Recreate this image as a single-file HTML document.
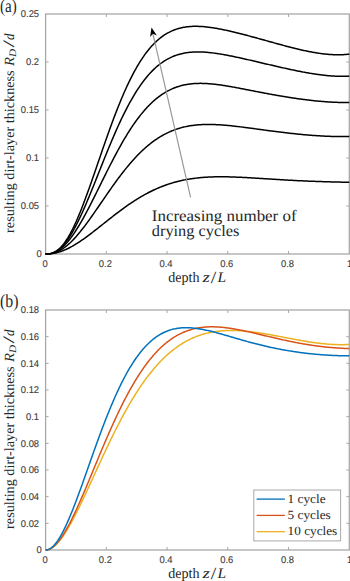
<!DOCTYPE html><html><head><meta charset="utf-8"><style>html,body{margin:0;padding:0;background:#fff;}text{text-rendering:geometricPrecision;}svg{display:block;}</style></head><body>
<svg width="350" height="581" viewBox="0 0 350 581">
<rect width="350" height="581" fill="#fff"/>
<style>.tk{font-family:"Liberation Sans",sans-serif;font-size:9.8px;fill:#383838;stroke:#383838;stroke-width:0.1}.sf{font-family:"Liberation Serif",serif;fill:#262626;}</style>
<rect x="45.60" y="14.00" width="303.70" height="240.00" fill="none" stroke="#a8a8a8" stroke-width="1.3"/>
<text x="45.00" y="266.90" text-anchor="middle" class="tk" textLength="5.23" lengthAdjust="spacingAndGlyphs">0</text>
<line x1="106.34" y1="254.00" x2="106.34" y2="251.00" stroke="#a8a8a8" stroke-width="1.0"/>
<line x1="106.34" y1="14.00" x2="106.34" y2="17.00" stroke="#a8a8a8" stroke-width="1.0"/>
<text x="105.34" y="266.90" text-anchor="middle" class="tk" textLength="13.07" lengthAdjust="spacingAndGlyphs">0.2</text>
<line x1="167.08" y1="254.00" x2="167.08" y2="251.00" stroke="#a8a8a8" stroke-width="1.0"/>
<line x1="167.08" y1="14.00" x2="167.08" y2="17.00" stroke="#a8a8a8" stroke-width="1.0"/>
<text x="166.08" y="266.90" text-anchor="middle" class="tk" textLength="13.07" lengthAdjust="spacingAndGlyphs">0.4</text>
<line x1="227.82" y1="254.00" x2="227.82" y2="251.00" stroke="#a8a8a8" stroke-width="1.0"/>
<line x1="227.82" y1="14.00" x2="227.82" y2="17.00" stroke="#a8a8a8" stroke-width="1.0"/>
<text x="226.82" y="266.90" text-anchor="middle" class="tk" textLength="13.07" lengthAdjust="spacingAndGlyphs">0.6</text>
<line x1="288.56" y1="254.00" x2="288.56" y2="251.00" stroke="#a8a8a8" stroke-width="1.0"/>
<line x1="288.56" y1="14.00" x2="288.56" y2="17.00" stroke="#a8a8a8" stroke-width="1.0"/>
<text x="287.56" y="266.90" text-anchor="middle" class="tk" textLength="13.07" lengthAdjust="spacingAndGlyphs">0.8</text>
<text x="349.70" y="266.90" text-anchor="middle" class="tk" textLength="5.23" lengthAdjust="spacingAndGlyphs">1</text>
<text x="41.70" y="257.30" text-anchor="end" class="tk" textLength="5.23" lengthAdjust="spacingAndGlyphs">0</text>
<line x1="45.60" y1="206.00" x2="48.60" y2="206.00" stroke="#a8a8a8" stroke-width="1.0"/>
<line x1="349.30" y1="206.00" x2="346.30" y2="206.00" stroke="#a8a8a8" stroke-width="1.0"/>
<text x="39.10" y="209.30" text-anchor="end" class="tk" textLength="18.29" lengthAdjust="spacingAndGlyphs">0.05</text>
<line x1="45.60" y1="158.00" x2="48.60" y2="158.00" stroke="#a8a8a8" stroke-width="1.0"/>
<line x1="349.30" y1="158.00" x2="346.30" y2="158.00" stroke="#a8a8a8" stroke-width="1.0"/>
<text x="39.10" y="161.30" text-anchor="end" class="tk" textLength="13.07" lengthAdjust="spacingAndGlyphs">0.1</text>
<line x1="45.60" y1="110.00" x2="48.60" y2="110.00" stroke="#a8a8a8" stroke-width="1.0"/>
<line x1="349.30" y1="110.00" x2="346.30" y2="110.00" stroke="#a8a8a8" stroke-width="1.0"/>
<text x="39.10" y="113.30" text-anchor="end" class="tk" textLength="18.29" lengthAdjust="spacingAndGlyphs">0.15</text>
<line x1="45.60" y1="62.00" x2="48.60" y2="62.00" stroke="#a8a8a8" stroke-width="1.0"/>
<line x1="349.30" y1="62.00" x2="346.30" y2="62.00" stroke="#a8a8a8" stroke-width="1.0"/>
<text x="39.10" y="65.30" text-anchor="end" class="tk" textLength="13.07" lengthAdjust="spacingAndGlyphs">0.2</text>
<text x="39.10" y="17.30" text-anchor="end" class="tk" textLength="18.29" lengthAdjust="spacingAndGlyphs">0.25</text>
<rect x="45.60" y="310.00" width="303.70" height="240.00" fill="none" stroke="#a8a8a8" stroke-width="1.3"/>
<text x="45.00" y="562.90" text-anchor="middle" class="tk" textLength="5.23" lengthAdjust="spacingAndGlyphs">0</text>
<line x1="106.34" y1="550.00" x2="106.34" y2="547.00" stroke="#a8a8a8" stroke-width="1.0"/>
<line x1="106.34" y1="310.00" x2="106.34" y2="313.00" stroke="#a8a8a8" stroke-width="1.0"/>
<text x="105.34" y="562.90" text-anchor="middle" class="tk" textLength="13.07" lengthAdjust="spacingAndGlyphs">0.2</text>
<line x1="167.08" y1="550.00" x2="167.08" y2="547.00" stroke="#a8a8a8" stroke-width="1.0"/>
<line x1="167.08" y1="310.00" x2="167.08" y2="313.00" stroke="#a8a8a8" stroke-width="1.0"/>
<text x="166.08" y="562.90" text-anchor="middle" class="tk" textLength="13.07" lengthAdjust="spacingAndGlyphs">0.4</text>
<line x1="227.82" y1="550.00" x2="227.82" y2="547.00" stroke="#a8a8a8" stroke-width="1.0"/>
<line x1="227.82" y1="310.00" x2="227.82" y2="313.00" stroke="#a8a8a8" stroke-width="1.0"/>
<text x="226.82" y="562.90" text-anchor="middle" class="tk" textLength="13.07" lengthAdjust="spacingAndGlyphs">0.6</text>
<line x1="288.56" y1="550.00" x2="288.56" y2="547.00" stroke="#a8a8a8" stroke-width="1.0"/>
<line x1="288.56" y1="310.00" x2="288.56" y2="313.00" stroke="#a8a8a8" stroke-width="1.0"/>
<text x="287.56" y="562.90" text-anchor="middle" class="tk" textLength="13.07" lengthAdjust="spacingAndGlyphs">0.8</text>
<text x="349.70" y="562.90" text-anchor="middle" class="tk" textLength="5.23" lengthAdjust="spacingAndGlyphs">1</text>
<text x="41.70" y="553.30" text-anchor="end" class="tk" textLength="5.23" lengthAdjust="spacingAndGlyphs">0</text>
<line x1="45.60" y1="523.33" x2="48.60" y2="523.33" stroke="#a8a8a8" stroke-width="1.0"/>
<line x1="349.30" y1="523.33" x2="346.30" y2="523.33" stroke="#a8a8a8" stroke-width="1.0"/>
<text x="39.10" y="526.63" text-anchor="end" class="tk" textLength="18.29" lengthAdjust="spacingAndGlyphs">0.02</text>
<line x1="45.60" y1="496.67" x2="48.60" y2="496.67" stroke="#a8a8a8" stroke-width="1.0"/>
<line x1="349.30" y1="496.67" x2="346.30" y2="496.67" stroke="#a8a8a8" stroke-width="1.0"/>
<text x="39.10" y="499.97" text-anchor="end" class="tk" textLength="18.29" lengthAdjust="spacingAndGlyphs">0.04</text>
<line x1="45.60" y1="470.00" x2="48.60" y2="470.00" stroke="#a8a8a8" stroke-width="1.0"/>
<line x1="349.30" y1="470.00" x2="346.30" y2="470.00" stroke="#a8a8a8" stroke-width="1.0"/>
<text x="39.10" y="473.30" text-anchor="end" class="tk" textLength="18.29" lengthAdjust="spacingAndGlyphs">0.06</text>
<line x1="45.60" y1="443.33" x2="48.60" y2="443.33" stroke="#a8a8a8" stroke-width="1.0"/>
<line x1="349.30" y1="443.33" x2="346.30" y2="443.33" stroke="#a8a8a8" stroke-width="1.0"/>
<text x="39.10" y="446.63" text-anchor="end" class="tk" textLength="18.29" lengthAdjust="spacingAndGlyphs">0.08</text>
<line x1="45.60" y1="416.67" x2="48.60" y2="416.67" stroke="#a8a8a8" stroke-width="1.0"/>
<line x1="349.30" y1="416.67" x2="346.30" y2="416.67" stroke="#a8a8a8" stroke-width="1.0"/>
<text x="39.10" y="419.97" text-anchor="end" class="tk" textLength="13.07" lengthAdjust="spacingAndGlyphs">0.1</text>
<line x1="45.60" y1="390.00" x2="48.60" y2="390.00" stroke="#a8a8a8" stroke-width="1.0"/>
<line x1="349.30" y1="390.00" x2="346.30" y2="390.00" stroke="#a8a8a8" stroke-width="1.0"/>
<text x="39.10" y="393.30" text-anchor="end" class="tk" textLength="18.29" lengthAdjust="spacingAndGlyphs">0.12</text>
<line x1="45.60" y1="363.33" x2="48.60" y2="363.33" stroke="#a8a8a8" stroke-width="1.0"/>
<line x1="349.30" y1="363.33" x2="346.30" y2="363.33" stroke="#a8a8a8" stroke-width="1.0"/>
<text x="39.10" y="366.63" text-anchor="end" class="tk" textLength="18.29" lengthAdjust="spacingAndGlyphs">0.14</text>
<line x1="45.60" y1="336.67" x2="48.60" y2="336.67" stroke="#a8a8a8" stroke-width="1.0"/>
<line x1="349.30" y1="336.67" x2="346.30" y2="336.67" stroke="#a8a8a8" stroke-width="1.0"/>
<text x="39.10" y="339.97" text-anchor="end" class="tk" textLength="18.29" lengthAdjust="spacingAndGlyphs">0.16</text>
<text x="39.10" y="313.30" text-anchor="end" class="tk" textLength="18.29" lengthAdjust="spacingAndGlyphs">0.18</text>
<path d="M45.60 254.00L46.62 253.99L47.63 253.95L48.65 253.86L49.66 253.71L50.68 253.51L51.69 253.24L52.71 252.89L53.73 252.47L54.74 251.98L55.76 251.39L56.77 250.73L57.79 249.97L58.80 249.13L59.82 248.20L60.84 247.19L61.85 246.08L62.87 244.88L63.88 243.60L64.90 242.22L65.91 240.76L66.93 239.22L67.95 237.58L68.96 235.87L69.98 234.08L70.99 232.20L72.01 230.25L73.02 228.23L74.04 226.13L75.06 223.96L76.07 221.73L77.09 219.43L78.10 217.07L79.12 214.66L80.13 212.18L81.15 209.66L82.17 207.08L83.18 204.46L84.20 201.80L85.21 199.09L86.23 196.35L87.24 193.57L88.26 190.76L89.28 187.92L90.29 185.06L91.31 182.17L92.32 179.27L93.34 176.35L94.35 173.41L95.37 170.47L96.39 167.52L97.40 164.56L98.42 161.60L99.43 158.64L100.45 155.69L101.46 152.74L102.48 149.79L103.50 146.86L104.51 143.94L105.53 141.04L106.54 138.15L107.56 135.28L108.57 132.43L109.59 129.60L110.61 126.80L111.62 124.03L112.64 121.28L113.65 118.57L114.67 115.88L115.68 113.23L116.70 110.61L117.72 108.02L118.73 105.47L119.75 102.96L120.76 100.49L121.78 98.06L122.79 95.67L123.81 93.32L124.83 91.01L125.84 88.74L126.86 86.52L127.87 84.34L128.89 82.20L129.90 80.11L130.92 78.06L131.94 76.06L132.95 74.11L133.97 72.20L134.98 70.33L136.00 68.51L137.01 66.74L138.03 65.01L139.05 63.33L140.06 61.69L141.08 60.10L142.09 58.55L143.11 57.05L144.12 55.59L145.14 54.18L146.16 52.81L147.17 51.48L148.19 50.19L149.20 48.95L150.22 47.75L151.23 46.59L152.25 45.47L153.27 44.39L154.28 43.35L155.30 42.35L156.31 41.39L157.33 40.46L158.34 39.58L159.36 38.72L160.38 37.91L161.39 37.13L162.41 36.38L163.42 35.67L164.44 34.98L165.45 34.34L166.47 33.72L167.49 33.13L168.50 32.57L169.52 32.05L170.53 31.55L171.55 31.08L172.56 30.63L173.58 30.21L174.60 29.82L175.61 29.45L176.63 29.11L177.64 28.79L178.66 28.49L179.67 28.21L180.69 27.96L181.71 27.73L182.72 27.52L183.74 27.32L184.75 27.15L185.77 26.99L186.78 26.85L187.80 26.73L188.82 26.63L189.83 26.54L190.85 26.47L191.86 26.41L192.88 26.37L193.89 26.34L194.91 26.32L195.93 26.32L196.94 26.33L197.96 26.35L198.97 26.38L199.99 26.43L201.01 26.48L202.02 26.55L203.04 26.62L204.05 26.71L205.07 26.80L206.08 26.91L207.10 27.02L208.12 27.14L209.13 27.26L210.15 27.40L211.16 27.54L212.18 27.69L213.19 27.84L214.21 28.00L215.23 28.17L216.24 28.34L217.26 28.52L218.27 28.71L219.29 28.90L220.30 29.09L221.32 29.29L222.34 29.49L223.35 29.70L224.37 29.91L225.38 30.13L226.40 30.35L227.41 30.57L228.43 30.80L229.45 31.03L230.46 31.26L231.48 31.49L232.49 31.73L233.51 31.97L234.52 32.22L235.54 32.47L236.56 32.71L237.57 32.97L238.59 33.22L239.60 33.48L240.62 33.73L241.63 33.99L242.65 34.26L243.67 34.52L244.68 34.78L245.70 35.05L246.71 35.32L247.73 35.59L248.74 35.86L249.76 36.13L250.78 36.41L251.79 36.68L252.81 36.96L253.82 37.23L254.84 37.51L255.85 37.79L256.87 38.07L257.89 38.35L258.90 38.63L259.92 38.91L260.93 39.19L261.95 39.48L262.96 39.76L263.98 40.04L265.00 40.32L266.01 40.61L267.03 40.89L268.04 41.17L269.06 41.46L270.07 41.74L271.09 42.02L272.11 42.30L273.12 42.59L274.14 42.87L275.15 43.15L276.17 43.43L277.18 43.71L278.20 43.99L279.22 44.27L280.23 44.54L281.25 44.82L282.26 45.09L283.28 45.37L284.29 45.64L285.31 45.91L286.33 46.18L287.34 46.45L288.36 46.71L289.37 46.97L290.39 47.24L291.40 47.49L292.42 47.75L293.44 48.01L294.45 48.26L295.47 48.51L296.48 48.76L297.50 49.00L298.51 49.24L299.53 49.48L300.55 49.71L301.56 49.94L302.58 50.17L303.59 50.40L304.61 50.62L305.62 50.83L306.64 51.05L307.66 51.25L308.67 51.46L309.69 51.66L310.70 51.85L311.72 52.04L312.73 52.23L313.75 52.41L314.77 52.58L315.78 52.75L316.80 52.92L317.81 53.07L318.83 53.23L319.84 53.37L320.86 53.51L321.88 53.65L322.89 53.77L323.91 53.89L324.92 54.01L325.94 54.11L326.95 54.21L327.97 54.30L328.99 54.39L330.00 54.46L331.02 54.53L332.03 54.59L333.05 54.64L334.06 54.68L335.08 54.72L336.10 54.74L337.11 54.76L338.13 54.77L339.14 54.76L340.16 54.75L341.17 54.73L342.19 54.70L343.21 54.65L344.22 54.60L345.24 54.54L346.25 54.46L347.27 54.37L348.28 54.28L349.30 54.17" fill="none" stroke="#000" stroke-width="1.5" stroke-linejoin="round"/>
<path d="M45.60 254.00L46.62 253.99L47.63 253.95L48.65 253.86L49.66 253.72L50.68 253.53L51.69 253.27L52.71 252.95L53.73 252.56L54.74 252.10L55.76 251.56L56.77 250.95L57.79 250.27L58.80 249.51L59.82 248.67L60.84 247.76L61.85 246.76L62.87 245.70L63.88 244.55L64.90 243.34L65.91 242.04L66.93 240.68L67.95 239.24L68.96 237.74L69.98 236.17L70.99 234.53L72.01 232.82L73.02 231.06L74.04 229.23L75.06 227.35L76.07 225.41L77.09 223.42L78.10 221.37L79.12 219.28L80.13 217.14L81.15 214.96L82.17 212.73L83.18 210.47L84.20 208.17L85.21 205.84L86.23 203.47L87.24 201.08L88.26 198.66L89.28 196.22L90.29 193.75L91.31 191.27L92.32 188.77L93.34 186.25L94.35 183.73L95.37 181.19L96.39 178.65L97.40 176.10L98.42 173.55L99.43 171.00L100.45 168.44L101.46 165.90L102.48 163.36L103.50 160.82L104.51 158.30L105.53 155.78L106.54 153.28L107.56 150.79L108.57 148.32L109.59 145.87L110.61 143.44L111.62 141.02L112.64 138.63L113.65 136.26L114.67 133.92L115.68 131.60L116.70 129.31L117.72 127.05L118.73 124.81L119.75 122.61L120.76 120.44L121.78 118.29L122.79 116.19L123.81 114.11L124.83 112.07L125.84 110.06L126.86 108.09L127.87 106.15L128.89 104.25L129.90 102.39L130.92 100.56L131.94 98.77L132.95 97.02L133.97 95.31L134.98 93.63L136.00 91.99L137.01 90.39L138.03 88.83L139.05 87.31L140.06 85.82L141.08 84.37L142.09 82.96L143.11 81.59L144.12 80.25L145.14 78.95L146.16 77.69L147.17 76.47L148.19 75.28L149.20 74.13L150.22 73.01L151.23 71.93L152.25 70.89L153.27 69.88L154.28 68.90L155.30 67.96L156.31 67.05L157.33 66.18L158.34 65.34L159.36 64.52L160.38 63.74L161.39 63.00L162.41 62.28L163.42 61.59L164.44 60.93L165.45 60.30L166.47 59.70L167.49 59.12L168.50 58.58L169.52 58.05L170.53 57.56L171.55 57.09L172.56 56.64L173.58 56.22L174.60 55.82L175.61 55.45L176.63 55.10L177.64 54.77L178.66 54.46L179.67 54.17L180.69 53.90L181.71 53.65L182.72 53.42L183.74 53.21L184.75 53.02L185.77 52.84L186.78 52.69L187.80 52.54L188.82 52.42L189.83 52.31L190.85 52.21L191.86 52.13L192.88 52.06L193.89 52.01L194.91 51.97L195.93 51.94L196.94 51.92L197.96 51.92L198.97 51.92L199.99 51.94L201.01 51.97L202.02 52.01L203.04 52.06L204.05 52.11L205.07 52.18L206.08 52.25L207.10 52.34L208.12 52.43L209.13 52.53L210.15 52.63L211.16 52.75L212.18 52.87L213.19 52.99L214.21 53.13L215.23 53.26L216.24 53.41L217.26 53.56L218.27 53.71L219.29 53.87L220.30 54.04L221.32 54.21L222.34 54.38L223.35 54.56L224.37 54.74L225.38 54.93L226.40 55.11L227.41 55.31L228.43 55.50L229.45 55.70L230.46 55.90L231.48 56.10L232.49 56.31L233.51 56.52L234.52 56.73L235.54 56.94L236.56 57.16L237.57 57.38L238.59 57.60L239.60 57.82L240.62 58.04L241.63 58.27L242.65 58.49L243.67 58.72L244.68 58.95L245.70 59.18L246.71 59.41L247.73 59.64L248.74 59.87L249.76 60.11L250.78 60.34L251.79 60.57L252.81 60.81L253.82 61.05L254.84 61.28L255.85 61.52L256.87 61.76L257.89 62.00L258.90 62.23L259.92 62.47L260.93 62.71L261.95 62.95L262.96 63.19L263.98 63.43L265.00 63.67L266.01 63.91L267.03 64.15L268.04 64.38L269.06 64.62L270.07 64.86L271.09 65.10L272.11 65.33L273.12 65.57L274.14 65.81L275.15 66.04L276.17 66.28L277.18 66.51L278.20 66.74L279.22 66.98L280.23 67.21L281.25 67.44L282.26 67.67L283.28 67.89L284.29 68.12L285.31 68.35L286.33 68.57L287.34 68.80L288.36 69.02L289.37 69.24L290.39 69.46L291.40 69.67L292.42 69.89L293.44 70.10L294.45 70.31L295.47 70.52L296.48 70.73L297.50 70.94L298.51 71.14L299.53 71.34L300.55 71.54L301.56 71.73L302.58 71.93L303.59 72.12L304.61 72.31L305.62 72.49L306.64 72.67L307.66 72.85L308.67 73.03L309.69 73.20L310.70 73.37L311.72 73.54L312.73 73.70L313.75 73.86L314.77 74.01L315.78 74.16L316.80 74.31L317.81 74.45L318.83 74.59L319.84 74.73L320.86 74.86L321.88 74.98L322.89 75.10L323.91 75.22L324.92 75.33L325.94 75.43L326.95 75.53L327.97 75.63L328.99 75.71L330.00 75.80L331.02 75.88L332.03 75.95L333.05 76.01L334.06 76.07L335.08 76.13L336.10 76.17L337.11 76.21L338.13 76.24L339.14 76.27L340.16 76.29L341.17 76.30L342.19 76.31L343.21 76.30L344.22 76.29L345.24 76.27L346.25 76.25L347.27 76.21L348.28 76.17L349.30 76.12" fill="none" stroke="#000" stroke-width="1.5" stroke-linejoin="round"/>
<path d="M45.60 254.00L46.62 253.99L47.63 253.95L48.65 253.86L49.66 253.73L50.68 253.55L51.69 253.31L52.71 253.02L53.73 252.67L54.74 252.27L55.76 251.80L56.77 251.27L57.79 250.68L58.80 250.03L59.82 249.31L60.84 248.54L61.85 247.71L62.87 246.81L63.88 245.86L64.90 244.85L65.91 243.78L66.93 242.66L67.95 241.48L68.96 240.25L69.98 238.96L70.99 237.63L72.01 236.24L73.02 234.81L74.04 233.34L75.06 231.82L76.07 230.25L77.09 228.65L78.10 227.00L79.12 225.32L80.13 223.60L81.15 221.85L82.17 220.07L83.18 218.26L84.20 216.42L85.21 214.55L86.23 212.66L87.24 210.74L88.26 208.81L89.28 206.85L90.29 204.88L91.31 202.89L92.32 200.89L93.34 198.87L94.35 196.85L95.37 194.81L96.39 192.77L97.40 190.72L98.42 188.67L99.43 186.62L100.45 184.56L101.46 182.51L102.48 180.45L103.50 178.40L104.51 176.36L105.53 174.32L106.54 172.29L107.56 170.27L108.57 168.25L109.59 166.25L110.61 164.26L111.62 162.29L112.64 160.32L113.65 158.38L114.67 156.45L115.68 154.53L116.70 152.64L117.72 150.76L118.73 148.91L119.75 147.07L120.76 145.26L121.78 143.47L122.79 141.70L123.81 139.96L124.83 138.24L125.84 136.54L126.86 134.88L127.87 133.23L128.89 131.61L129.90 130.02L130.92 128.46L131.94 126.92L132.95 125.42L133.97 123.94L134.98 122.48L136.00 121.06L137.01 119.67L138.03 118.30L139.05 116.96L140.06 115.66L141.08 114.38L142.09 113.13L143.11 111.91L144.12 110.72L145.14 109.56L146.16 108.43L147.17 107.33L148.19 106.25L149.20 105.21L150.22 104.19L151.23 103.21L152.25 102.25L153.27 101.32L154.28 100.42L155.30 99.54L156.31 98.70L157.33 97.88L158.34 97.08L159.36 96.32L160.38 95.58L161.39 94.87L162.41 94.18L163.42 93.52L164.44 92.88L165.45 92.27L166.47 91.69L167.49 91.12L168.50 90.58L169.52 90.07L170.53 89.57L171.55 89.10L172.56 88.66L173.58 88.23L174.60 87.82L175.61 87.44L176.63 87.07L177.64 86.73L178.66 86.41L179.67 86.10L180.69 85.81L181.71 85.55L182.72 85.29L183.74 85.06L184.75 84.85L185.77 84.65L186.78 84.46L187.80 84.30L188.82 84.14L189.83 84.01L190.85 83.88L191.86 83.78L192.88 83.68L193.89 83.60L194.91 83.53L195.93 83.47L196.94 83.43L197.96 83.40L198.97 83.38L199.99 83.37L201.01 83.37L202.02 83.38L203.04 83.40L204.05 83.43L205.07 83.47L206.08 83.52L207.10 83.58L208.12 83.64L209.13 83.72L210.15 83.80L211.16 83.88L212.18 83.98L213.19 84.08L214.21 84.19L215.23 84.30L216.24 84.42L217.26 84.55L218.27 84.68L219.29 84.82L220.30 84.96L221.32 85.10L222.34 85.25L223.35 85.41L224.37 85.56L225.38 85.73L226.40 85.89L227.41 86.06L228.43 86.23L229.45 86.40L230.46 86.58L231.48 86.76L232.49 86.94L233.51 87.12L234.52 87.31L235.54 87.50L236.56 87.68L237.57 87.88L238.59 88.07L239.60 88.26L240.62 88.45L241.63 88.65L242.65 88.85L243.67 89.04L244.68 89.24L245.70 89.44L246.71 89.64L247.73 89.83L248.74 90.03L249.76 90.23L250.78 90.43L251.79 90.63L252.81 90.83L253.82 91.03L254.84 91.23L255.85 91.43L256.87 91.62L257.89 91.82L258.90 92.02L259.92 92.21L260.93 92.41L261.95 92.60L262.96 92.80L263.98 92.99L265.00 93.18L266.01 93.37L267.03 93.56L268.04 93.75L269.06 93.94L270.07 94.13L271.09 94.31L272.11 94.50L273.12 94.68L274.14 94.86L275.15 95.05L276.17 95.23L277.18 95.40L278.20 95.58L279.22 95.76L280.23 95.93L281.25 96.10L282.26 96.28L283.28 96.44L284.29 96.61L285.31 96.78L286.33 96.94L287.34 97.11L288.36 97.27L289.37 97.43L290.39 97.59L291.40 97.74L292.42 97.90L293.44 98.05L294.45 98.20L295.47 98.35L296.48 98.50L297.50 98.64L298.51 98.79L299.53 98.93L300.55 99.07L301.56 99.21L302.58 99.34L303.59 99.47L304.61 99.60L305.62 99.73L306.64 99.86L307.66 99.98L308.67 100.11L309.69 100.22L310.70 100.34L311.72 100.46L312.73 100.57L313.75 100.68L314.77 100.78L315.78 100.89L316.80 100.99L317.81 101.09L318.83 101.18L319.84 101.28L320.86 101.37L321.88 101.45L322.89 101.54L323.91 101.62L324.92 101.70L325.94 101.77L326.95 101.84L327.97 101.91L328.99 101.98L330.00 102.04L331.02 102.10L332.03 102.15L333.05 102.20L334.06 102.25L335.08 102.29L336.10 102.33L337.11 102.37L338.13 102.40L339.14 102.43L340.16 102.45L341.17 102.47L342.19 102.49L343.21 102.50L344.22 102.50L345.24 102.50L346.25 102.50L347.27 102.49L348.28 102.48L349.30 102.46" fill="none" stroke="#000" stroke-width="1.5" stroke-linejoin="round"/>
<path d="M45.60 254.00L46.62 253.99L47.63 253.96L48.65 253.89L49.66 253.79L50.68 253.65L51.69 253.47L52.71 253.25L53.73 252.98L54.74 252.68L55.76 252.33L56.77 251.93L57.79 251.49L58.80 251.01L59.82 250.48L60.84 249.91L61.85 249.30L62.87 248.64L63.88 247.95L64.90 247.21L65.91 246.43L66.93 245.61L67.95 244.75L68.96 243.86L69.98 242.93L70.99 241.96L72.01 240.96L73.02 239.93L74.04 238.86L75.06 237.76L76.07 236.64L77.09 235.48L78.10 234.30L79.12 233.09L80.13 231.85L81.15 230.59L82.17 229.31L83.18 228.01L84.20 226.69L85.21 225.35L86.23 223.99L87.24 222.61L88.26 221.22L89.28 219.82L90.29 218.40L91.31 216.97L92.32 215.53L93.34 214.08L94.35 212.63L95.37 211.16L96.39 209.69L97.40 208.22L98.42 206.74L99.43 205.26L100.45 203.78L101.46 202.29L102.48 200.81L103.50 199.33L104.51 197.85L105.53 196.37L106.54 194.90L107.56 193.43L108.57 191.96L109.59 190.51L110.61 189.06L111.62 187.62L112.64 186.18L113.65 184.76L114.67 183.35L115.68 181.94L116.70 180.55L117.72 179.17L118.73 177.80L119.75 176.45L120.76 175.11L121.78 173.78L122.79 172.47L123.81 171.18L124.83 169.90L125.84 168.63L126.86 167.38L127.87 166.15L128.89 164.94L129.90 163.74L130.92 162.56L131.94 161.40L132.95 160.25L133.97 159.13L134.98 158.02L136.00 156.93L137.01 155.86L138.03 154.81L139.05 153.78L140.06 152.77L141.08 151.78L142.09 150.81L143.11 149.86L144.12 148.93L145.14 148.02L146.16 147.12L147.17 146.25L148.19 145.40L149.20 144.56L150.22 143.75L151.23 142.96L152.25 142.18L153.27 141.43L154.28 140.69L155.30 139.98L156.31 139.28L157.33 138.60L158.34 137.95L159.36 137.31L160.38 136.68L161.39 136.08L162.41 135.50L163.42 134.93L164.44 134.38L165.45 133.85L166.47 133.34L167.49 132.85L168.50 132.37L169.52 131.91L170.53 131.46L171.55 131.03L172.56 130.62L173.58 130.23L174.60 129.85L175.61 129.48L176.63 129.13L177.64 128.80L178.66 128.48L179.67 128.17L180.69 127.88L181.71 127.61L182.72 127.34L183.74 127.09L184.75 126.86L185.77 126.63L186.78 126.42L187.80 126.22L188.82 126.04L189.83 125.86L190.85 125.70L191.86 125.55L192.88 125.41L193.89 125.28L194.91 125.16L195.93 125.05L196.94 124.95L197.96 124.86L198.97 124.78L199.99 124.71L201.01 124.64L202.02 124.59L203.04 124.55L204.05 124.51L205.07 124.48L206.08 124.46L207.10 124.45L208.12 124.44L209.13 124.44L210.15 124.45L211.16 124.46L212.18 124.49L213.19 124.51L214.21 124.55L215.23 124.58L216.24 124.63L217.26 124.68L218.27 124.73L219.29 124.79L220.30 124.86L221.32 124.93L222.34 125.00L223.35 125.08L224.37 125.16L225.38 125.24L226.40 125.33L227.41 125.42L228.43 125.52L229.45 125.62L230.46 125.72L231.48 125.83L232.49 125.94L233.51 126.05L234.52 126.16L235.54 126.27L236.56 126.39L237.57 126.51L238.59 126.63L239.60 126.75L240.62 126.88L241.63 127.01L242.65 127.13L243.67 127.26L244.68 127.39L245.70 127.52L246.71 127.66L247.73 127.79L248.74 127.93L249.76 128.06L250.78 128.20L251.79 128.33L252.81 128.47L253.82 128.61L254.84 128.74L255.85 128.88L256.87 129.02L257.89 129.16L258.90 129.30L259.92 129.43L260.93 129.57L261.95 129.71L262.96 129.85L263.98 129.98L265.00 130.12L266.01 130.26L267.03 130.39L268.04 130.53L269.06 130.66L270.07 130.80L271.09 130.93L272.11 131.06L273.12 131.20L274.14 131.33L275.15 131.46L276.17 131.59L277.18 131.72L278.20 131.84L279.22 131.97L280.23 132.10L281.25 132.22L282.26 132.34L283.28 132.47L284.29 132.59L285.31 132.71L286.33 132.83L287.34 132.94L288.36 133.06L289.37 133.18L290.39 133.29L291.40 133.40L292.42 133.51L293.44 133.62L294.45 133.73L295.47 133.84L296.48 133.94L297.50 134.04L298.51 134.15L299.53 134.25L300.55 134.34L301.56 134.44L302.58 134.54L303.59 134.63L304.61 134.72L305.62 134.81L306.64 134.90L307.66 134.98L308.67 135.07L309.69 135.15L310.70 135.23L311.72 135.31L312.73 135.39L313.75 135.46L314.77 135.53L315.78 135.61L316.80 135.67L317.81 135.74L318.83 135.80L319.84 135.87L320.86 135.93L321.88 135.98L322.89 136.04L323.91 136.09L324.92 136.14L325.94 136.19L326.95 136.24L327.97 136.28L328.99 136.32L330.00 136.36L331.02 136.39L332.03 136.43L333.05 136.46L334.06 136.49L335.08 136.51L336.10 136.53L337.11 136.55L338.13 136.57L339.14 136.58L340.16 136.60L341.17 136.60L342.19 136.61L343.21 136.61L344.22 136.61L345.24 136.60L346.25 136.60L347.27 136.59L348.28 136.57L349.30 136.55" fill="none" stroke="#000" stroke-width="1.5" stroke-linejoin="round"/>
<path d="M45.60 254.00L46.62 253.99L47.63 253.97L48.65 253.92L49.66 253.84L50.68 253.75L51.69 253.63L52.71 253.48L53.73 253.31L54.74 253.12L55.76 252.90L56.77 252.66L57.79 252.39L58.80 252.10L59.82 251.79L60.84 251.45L61.85 251.09L62.87 250.71L63.88 250.31L64.90 249.88L65.91 249.44L66.93 248.97L67.95 248.49L68.96 247.98L69.98 247.46L70.99 246.92L72.01 246.37L73.02 245.79L74.04 245.20L75.06 244.60L76.07 243.98L77.09 243.35L78.10 242.70L79.12 242.04L80.13 241.36L81.15 240.68L82.17 239.98L83.18 239.28L84.20 238.56L85.21 237.83L86.23 237.10L87.24 236.35L88.26 235.60L89.28 234.84L90.29 234.07L91.31 233.30L92.32 232.52L93.34 231.74L94.35 230.95L95.37 230.16L96.39 229.36L97.40 228.56L98.42 227.76L99.43 226.95L100.45 226.15L101.46 225.34L102.48 224.53L103.50 223.72L104.51 222.92L105.53 222.11L106.54 221.30L107.56 220.50L108.57 219.69L109.59 218.89L110.61 218.09L111.62 217.30L112.64 216.50L113.65 215.71L114.67 214.93L115.68 214.14L116.70 213.37L117.72 212.59L118.73 211.83L119.75 211.07L120.76 210.31L121.78 209.56L122.79 208.81L123.81 208.08L124.83 207.35L125.84 206.62L126.86 205.90L127.87 205.19L128.89 204.49L129.90 203.80L130.92 203.11L131.94 202.43L132.95 201.76L133.97 201.10L134.98 200.45L136.00 199.80L137.01 199.16L138.03 198.54L139.05 197.92L140.06 197.31L141.08 196.71L142.09 196.12L143.11 195.54L144.12 194.97L145.14 194.40L146.16 193.85L147.17 193.31L148.19 192.77L149.20 192.25L150.22 191.73L151.23 191.23L152.25 190.74L153.27 190.25L154.28 189.78L155.30 189.31L156.31 188.85L157.33 188.41L158.34 187.97L159.36 187.55L160.38 187.13L161.39 186.72L162.41 186.32L163.42 185.94L164.44 185.56L165.45 185.19L166.47 184.83L167.49 184.48L168.50 184.14L169.52 183.81L170.53 183.48L171.55 183.17L172.56 182.87L173.58 182.57L174.60 182.28L175.61 182.01L176.63 181.74L177.64 181.48L178.66 181.22L179.67 180.98L180.69 180.74L181.71 180.52L182.72 180.30L183.74 180.09L184.75 179.88L185.77 179.69L186.78 179.50L187.80 179.32L188.82 179.15L189.83 178.98L190.85 178.82L191.86 178.67L192.88 178.52L193.89 178.39L194.91 178.26L195.93 178.13L196.94 178.01L197.96 177.90L198.97 177.79L199.99 177.69L201.01 177.60L202.02 177.51L203.04 177.43L204.05 177.35L205.07 177.28L206.08 177.22L207.10 177.16L208.12 177.10L209.13 177.05L210.15 177.00L211.16 176.96L212.18 176.93L213.19 176.89L214.21 176.87L215.23 176.84L216.24 176.82L217.26 176.81L218.27 176.80L219.29 176.79L220.30 176.79L221.32 176.79L222.34 176.79L223.35 176.79L224.37 176.80L225.38 176.82L226.40 176.83L227.41 176.85L228.43 176.87L229.45 176.90L230.46 176.92L231.48 176.95L232.49 176.98L233.51 177.02L234.52 177.05L235.54 177.09L236.56 177.13L237.57 177.17L238.59 177.22L239.60 177.26L240.62 177.31L241.63 177.36L242.65 177.41L243.67 177.46L244.68 177.51L245.70 177.56L246.71 177.62L247.73 177.68L248.74 177.73L249.76 177.79L250.78 177.85L251.79 177.91L252.81 177.97L253.82 178.03L254.84 178.09L255.85 178.16L256.87 178.22L257.89 178.28L258.90 178.35L259.92 178.41L260.93 178.47L261.95 178.54L262.96 178.60L263.98 178.67L265.00 178.73L266.01 178.80L267.03 178.86L268.04 178.93L269.06 178.99L270.07 179.05L271.09 179.12L272.11 179.18L273.12 179.25L274.14 179.31L275.15 179.37L276.17 179.44L277.18 179.50L278.20 179.56L279.22 179.62L280.23 179.68L281.25 179.74L282.26 179.80L283.28 179.86L284.29 179.92L285.31 179.98L286.33 180.04L287.34 180.09L288.36 180.15L289.37 180.21L290.39 180.26L291.40 180.31L292.42 180.37L293.44 180.42L294.45 180.47L295.47 180.52L296.48 180.58L297.50 180.63L298.51 180.68L299.53 180.72L300.55 180.77L301.56 180.82L302.58 180.87L303.59 180.91L304.61 180.96L305.62 181.00L306.64 181.04L307.66 181.09L308.67 181.13L309.69 181.17L310.70 181.21L311.72 181.25L312.73 181.29L313.75 181.33L314.77 181.37L315.78 181.40L316.80 181.44L317.81 181.47L318.83 181.51L319.84 181.54L320.86 181.58L321.88 181.61L322.89 181.64L323.91 181.67L324.92 181.71L325.94 181.74L326.95 181.77L327.97 181.80L328.99 181.83L330.00 181.85L331.02 181.88L332.03 181.91L333.05 181.94L334.06 181.96L335.08 181.99L336.10 182.01L337.11 182.04L338.13 182.06L339.14 182.09L340.16 182.11L341.17 182.14L342.19 182.16L343.21 182.18L344.22 182.20L345.24 182.23L346.25 182.25L347.27 182.27L348.28 182.29L349.30 182.31" fill="none" stroke="#000" stroke-width="1.5" stroke-linejoin="round"/>
<path d="M45.60 550.00L46.62 549.94L47.63 549.77L48.65 549.50L49.66 549.12L50.68 548.64L51.69 548.06L52.71 547.39L53.73 546.63L54.74 545.78L55.76 544.85L56.77 543.85L57.79 542.76L58.80 541.61L59.82 540.38L60.84 539.08L61.85 537.73L62.87 536.31L63.88 534.83L64.90 533.29L65.91 531.71L66.93 530.07L67.95 528.38L68.96 526.65L69.98 524.88L70.99 523.07L72.01 521.22L73.02 519.33L74.04 517.41L75.06 515.45L76.07 513.47L77.09 511.46L78.10 509.42L79.12 507.36L80.13 505.28L81.15 503.18L82.17 501.06L83.18 498.92L84.20 496.77L85.21 494.60L86.23 492.43L87.24 490.24L88.26 488.04L89.28 485.84L90.29 483.63L91.31 481.42L92.32 479.20L93.34 476.98L94.35 474.76L95.37 472.54L96.39 470.33L97.40 468.11L98.42 465.90L99.43 463.69L100.45 461.49L101.46 459.30L102.48 457.11L103.50 454.93L104.51 452.76L105.53 450.60L106.54 448.45L107.56 446.32L108.57 444.19L109.59 442.08L110.61 439.98L111.62 437.90L112.64 435.83L113.65 433.78L114.67 431.74L115.68 429.72L116.70 427.71L117.72 425.73L118.73 423.76L119.75 421.81L120.76 419.88L121.78 417.97L122.79 416.08L123.81 414.20L124.83 412.35L125.84 410.52L126.86 408.71L127.87 406.92L128.89 405.15L129.90 403.40L130.92 401.68L131.94 399.97L132.95 398.29L133.97 396.63L134.98 395.00L136.00 393.38L137.01 391.79L138.03 390.22L139.05 388.68L140.06 387.15L141.08 385.65L142.09 384.18L143.11 382.72L144.12 381.29L145.14 379.88L146.16 378.50L147.17 377.13L148.19 375.80L149.20 374.48L150.22 373.19L151.23 371.92L152.25 370.67L153.27 369.44L154.28 368.24L155.30 367.06L156.31 365.90L157.33 364.77L158.34 363.65L159.36 362.56L160.38 361.49L161.39 360.45L162.41 359.42L163.42 358.42L164.44 357.44L165.45 356.48L166.47 355.54L167.49 354.62L168.50 353.72L169.52 352.84L170.53 351.99L171.55 351.15L172.56 350.33L173.58 349.54L174.60 348.76L175.61 348.00L176.63 347.27L177.64 346.55L178.66 345.85L179.67 345.17L180.69 344.51L181.71 343.86L182.72 343.24L183.74 342.63L184.75 342.04L185.77 341.47L186.78 340.91L187.80 340.38L188.82 339.86L189.83 339.35L190.85 338.87L191.86 338.39L192.88 337.94L193.89 337.50L194.91 337.08L195.93 336.67L196.94 336.28L197.96 335.90L198.97 335.54L199.99 335.19L201.01 334.85L202.02 334.53L203.04 334.23L204.05 333.94L205.07 333.66L206.08 333.39L207.10 333.14L208.12 332.90L209.13 332.67L210.15 332.46L211.16 332.25L212.18 332.06L213.19 331.88L214.21 331.72L215.23 331.56L216.24 331.42L217.26 331.28L218.27 331.16L219.29 331.05L220.30 330.95L221.32 330.85L222.34 330.77L223.35 330.70L224.37 330.64L225.38 330.58L226.40 330.54L227.41 330.50L228.43 330.48L229.45 330.46L230.46 330.45L231.48 330.45L232.49 330.45L233.51 330.47L234.52 330.49L235.54 330.52L236.56 330.55L237.57 330.60L238.59 330.65L239.60 330.71L240.62 330.77L241.63 330.84L242.65 330.92L243.67 331.00L244.68 331.09L245.70 331.18L246.71 331.28L247.73 331.38L248.74 331.49L249.76 331.61L250.78 331.73L251.79 331.85L252.81 331.98L253.82 332.11L254.84 332.25L255.85 332.39L256.87 332.54L257.89 332.69L258.90 332.84L259.92 333.00L260.93 333.16L261.95 333.32L262.96 333.49L263.98 333.65L265.00 333.83L266.01 334.00L267.03 334.18L268.04 334.35L269.06 334.53L270.07 334.72L271.09 334.90L272.11 335.09L273.12 335.27L274.14 335.46L275.15 335.65L276.17 335.85L277.18 336.04L278.20 336.23L279.22 336.43L280.23 336.62L281.25 336.81L282.26 337.01L283.28 337.21L284.29 337.40L285.31 337.60L286.33 337.79L287.34 337.99L288.36 338.18L289.37 338.38L290.39 338.57L291.40 338.76L292.42 338.96L293.44 339.15L294.45 339.34L295.47 339.52L296.48 339.71L297.50 339.90L298.51 340.08L299.53 340.26L300.55 340.44L301.56 340.62L302.58 340.80L303.59 340.97L304.61 341.14L305.62 341.31L306.64 341.47L307.66 341.64L308.67 341.80L309.69 341.95L310.70 342.11L311.72 342.26L312.73 342.41L313.75 342.55L314.77 342.69L315.78 342.83L316.80 342.96L317.81 343.09L318.83 343.21L319.84 343.33L320.86 343.45L321.88 343.56L322.89 343.67L323.91 343.77L324.92 343.87L325.94 343.96L326.95 344.05L327.97 344.13L328.99 344.21L330.00 344.28L331.02 344.34L332.03 344.40L333.05 344.46L334.06 344.51L335.08 344.55L336.10 344.59L337.11 344.62L338.13 344.64L339.14 344.66L340.16 344.67L341.17 344.67L342.19 344.67L343.21 344.66L344.22 344.64L345.24 344.61L346.25 344.58L347.27 344.54L348.28 344.49L349.30 344.44" fill="none" stroke="#EDB120" stroke-width="1.5" stroke-linejoin="round"/>
<path d="M45.60 550.00L46.62 549.94L47.63 549.76L48.65 549.47L49.66 549.06L50.68 548.55L51.69 547.93L52.71 547.22L53.73 546.40L54.74 545.50L55.76 544.50L56.77 543.41L57.79 542.25L58.80 541.00L59.82 539.67L60.84 538.27L61.85 536.80L62.87 535.25L63.88 533.65L64.90 531.98L65.91 530.25L66.93 528.46L67.95 526.62L68.96 524.73L69.98 522.79L70.99 520.80L72.01 518.77L73.02 516.70L74.04 514.59L75.06 512.44L76.07 510.26L77.09 508.05L78.10 505.81L79.12 503.54L80.13 501.24L81.15 498.92L82.17 496.58L83.18 494.23L84.20 491.85L85.21 489.46L86.23 487.05L87.24 484.64L88.26 482.21L89.28 479.78L90.29 477.33L91.31 474.89L92.32 472.44L93.34 469.99L94.35 467.54L95.37 465.08L96.39 462.64L97.40 460.19L98.42 457.75L99.43 455.32L100.45 452.89L101.46 450.48L102.48 448.07L103.50 445.67L104.51 443.29L105.53 440.92L106.54 438.56L107.56 436.22L108.57 433.89L109.59 431.58L110.61 429.29L111.62 427.02L112.64 424.76L113.65 422.53L114.67 420.32L115.68 418.12L116.70 415.95L117.72 413.80L118.73 411.68L119.75 409.58L120.76 407.50L121.78 405.45L122.79 403.42L123.81 401.42L124.83 399.44L125.84 397.49L126.86 395.57L127.87 393.67L128.89 391.81L129.90 389.96L130.92 388.15L131.94 386.37L132.95 384.61L133.97 382.88L134.98 381.18L136.00 379.51L137.01 377.86L138.03 376.25L139.05 374.67L140.06 373.11L141.08 371.58L142.09 370.08L143.11 368.62L144.12 367.18L145.14 365.77L146.16 364.38L147.17 363.03L148.19 361.71L149.20 360.41L150.22 359.15L151.23 357.91L152.25 356.70L153.27 355.52L154.28 354.37L155.30 353.24L156.31 352.15L157.33 351.08L158.34 350.04L159.36 349.02L160.38 348.04L161.39 347.07L162.41 346.14L163.42 345.23L164.44 344.35L165.45 343.50L166.47 342.67L167.49 341.86L168.50 341.08L169.52 340.33L170.53 339.60L171.55 338.89L172.56 338.21L173.58 337.55L174.60 336.92L175.61 336.31L176.63 335.72L177.64 335.15L178.66 334.61L179.67 334.08L180.69 333.58L181.71 333.10L182.72 332.64L183.74 332.20L184.75 331.78L185.77 331.38L186.78 331.00L187.80 330.64L188.82 330.30L189.83 329.97L190.85 329.67L191.86 329.38L192.88 329.11L193.89 328.86L194.91 328.62L195.93 328.40L196.94 328.19L197.96 328.00L198.97 327.83L199.99 327.67L201.01 327.53L202.02 327.40L203.04 327.28L204.05 327.18L205.07 327.09L206.08 327.02L207.10 326.96L208.12 326.91L209.13 326.87L210.15 326.84L211.16 326.83L212.18 326.83L213.19 326.83L214.21 326.85L215.23 326.88L216.24 326.92L217.26 326.97L218.27 327.03L219.29 327.09L220.30 327.17L221.32 327.25L222.34 327.35L223.35 327.45L224.37 327.56L225.38 327.67L226.40 327.80L227.41 327.93L228.43 328.06L229.45 328.21L230.46 328.36L231.48 328.51L232.49 328.67L233.51 328.84L234.52 329.01L235.54 329.19L236.56 329.37L237.57 329.56L238.59 329.75L239.60 329.95L240.62 330.15L241.63 330.35L242.65 330.56L243.67 330.77L244.68 330.98L245.70 331.20L246.71 331.42L247.73 331.64L248.74 331.86L249.76 332.09L250.78 332.32L251.79 332.55L252.81 332.78L253.82 333.02L254.84 333.25L255.85 333.49L256.87 333.73L257.89 333.97L258.90 334.21L259.92 334.45L260.93 334.69L261.95 334.93L262.96 335.17L263.98 335.41L265.00 335.65L266.01 335.90L267.03 336.14L268.04 336.38L269.06 336.62L270.07 336.86L271.09 337.10L272.11 337.34L273.12 337.58L274.14 337.81L275.15 338.05L276.17 338.28L277.18 338.52L278.20 338.75L279.22 338.98L280.23 339.21L281.25 339.44L282.26 339.67L283.28 339.89L284.29 340.11L285.31 340.33L286.33 340.55L287.34 340.77L288.36 340.98L289.37 341.20L290.39 341.41L291.40 341.62L292.42 341.82L293.44 342.02L294.45 342.23L295.47 342.42L296.48 342.62L297.50 342.81L298.51 343.01L299.53 343.19L300.55 343.38L301.56 343.56L302.58 343.74L303.59 343.92L304.61 344.09L305.62 344.27L306.64 344.43L307.66 344.60L308.67 344.76L309.69 344.92L310.70 345.08L311.72 345.23L312.73 345.38L313.75 345.53L314.77 345.67L315.78 345.81L316.80 345.95L317.81 346.09L318.83 346.22L319.84 346.35L320.86 346.47L321.88 346.59L322.89 346.71L323.91 346.82L324.92 346.93L325.94 347.04L326.95 347.15L327.97 347.25L328.99 347.34L330.00 347.44L331.02 347.53L332.03 347.61L333.05 347.70L334.06 347.78L335.08 347.85L336.10 347.93L337.11 347.99L338.13 348.06L339.14 348.12L340.16 348.18L341.17 348.23L342.19 348.29L343.21 348.33L344.22 348.38L345.24 348.42L346.25 348.45L347.27 348.48L348.28 348.51L349.30 348.54" fill="none" stroke="#D95319" stroke-width="1.5" stroke-linejoin="round"/>
<path d="M45.60 550.00L46.62 549.93L47.63 549.73L48.65 549.39L49.66 548.91L50.68 548.30L51.69 547.55L52.71 546.68L53.73 545.69L54.74 544.58L55.76 543.35L56.77 542.01L57.79 540.57L58.80 539.02L59.82 537.38L60.84 535.64L61.85 533.81L62.87 531.90L63.88 529.90L64.90 527.83L65.91 525.68L66.93 523.46L67.95 521.18L68.96 518.84L69.98 516.44L70.99 513.98L72.01 511.48L73.02 508.92L74.04 506.33L75.06 503.69L76.07 501.01L77.09 498.31L78.10 495.57L79.12 492.80L80.13 490.02L81.15 487.21L82.17 484.38L83.18 481.54L84.20 478.68L85.21 475.81L86.23 472.94L87.24 470.06L88.26 467.18L89.28 464.30L90.29 461.43L91.31 458.56L92.32 455.69L93.34 452.83L94.35 449.99L95.37 447.15L96.39 444.33L97.40 441.53L98.42 438.75L99.43 435.98L100.45 433.24L101.46 430.52L102.48 427.82L103.50 425.15L104.51 422.51L105.53 419.89L106.54 417.31L107.56 414.75L108.57 412.23L109.59 409.74L110.61 407.28L111.62 404.85L112.64 402.46L113.65 400.11L114.67 397.79L115.68 395.51L116.70 393.27L117.72 391.07L118.73 388.90L119.75 386.77L120.76 384.69L121.78 382.64L122.79 380.63L123.81 378.67L124.83 376.74L125.84 374.86L126.86 373.01L127.87 371.21L128.89 369.45L129.90 367.73L130.92 366.05L131.94 364.42L132.95 362.82L133.97 361.26L134.98 359.75L136.00 358.28L137.01 356.84L138.03 355.45L139.05 354.10L140.06 352.79L141.08 351.51L142.09 350.28L143.11 349.09L144.12 347.93L145.14 346.81L146.16 345.73L147.17 344.69L148.19 343.68L149.20 342.71L150.22 341.78L151.23 340.88L152.25 340.02L153.27 339.19L154.28 338.40L155.30 337.64L156.31 336.91L157.33 336.22L158.34 335.56L159.36 334.93L160.38 334.33L161.39 333.76L162.41 333.22L163.42 332.71L164.44 332.22L165.45 331.77L166.47 331.34L167.49 330.95L168.50 330.57L169.52 330.23L170.53 329.90L171.55 329.61L172.56 329.33L173.58 329.08L174.60 328.86L175.61 328.65L176.63 328.47L177.64 328.30L178.66 328.16L179.67 328.04L180.69 327.94L181.71 327.86L182.72 327.79L183.74 327.74L184.75 327.71L185.77 327.70L186.78 327.70L187.80 327.72L188.82 327.75L189.83 327.80L190.85 327.86L191.86 327.94L192.88 328.03L193.89 328.13L194.91 328.24L195.93 328.36L196.94 328.50L197.96 328.65L198.97 328.80L199.99 328.97L201.01 329.15L202.02 329.33L203.04 329.52L204.05 329.73L205.07 329.93L206.08 330.15L207.10 330.37L208.12 330.60L209.13 330.84L210.15 331.08L211.16 331.33L212.18 331.58L213.19 331.84L214.21 332.10L215.23 332.37L216.24 332.64L217.26 332.91L218.27 333.19L219.29 333.47L220.30 333.75L221.32 334.04L222.34 334.33L223.35 334.62L224.37 334.91L225.38 335.20L226.40 335.50L227.41 335.79L228.43 336.09L229.45 336.38L230.46 336.68L231.48 336.98L232.49 337.28L233.51 337.57L234.52 337.87L235.54 338.17L236.56 338.46L237.57 338.76L238.59 339.05L239.60 339.34L240.62 339.64L241.63 339.93L242.65 340.22L243.67 340.50L244.68 340.79L245.70 341.08L246.71 341.36L247.73 341.64L248.74 341.92L249.76 342.19L250.78 342.47L251.79 342.74L252.81 343.01L253.82 343.28L254.84 343.54L255.85 343.81L256.87 344.07L257.89 344.32L258.90 344.58L259.92 344.83L260.93 345.08L261.95 345.33L262.96 345.57L263.98 345.81L265.00 346.05L266.01 346.28L267.03 346.52L268.04 346.75L269.06 346.97L270.07 347.20L271.09 347.42L272.11 347.63L273.12 347.85L274.14 348.06L275.15 348.27L276.17 348.47L277.18 348.68L278.20 348.88L279.22 349.07L280.23 349.27L281.25 349.46L282.26 349.65L283.28 349.83L284.29 350.01L285.31 350.19L286.33 350.37L287.34 350.54L288.36 350.71L289.37 350.88L290.39 351.04L291.40 351.20L292.42 351.36L293.44 351.52L294.45 351.67L295.47 351.82L296.48 351.97L297.50 352.11L298.51 352.25L299.53 352.39L300.55 352.53L301.56 352.66L302.58 352.79L303.59 352.92L304.61 353.04L305.62 353.17L306.64 353.29L307.66 353.40L308.67 353.52L309.69 353.63L310.70 353.74L311.72 353.84L312.73 353.95L313.75 354.05L314.77 354.15L315.78 354.24L316.80 354.33L317.81 354.42L318.83 354.51L319.84 354.60L320.86 354.68L321.88 354.76L322.89 354.83L323.91 354.91L324.92 354.98L325.94 355.05L326.95 355.11L327.97 355.18L328.99 355.24L330.00 355.29L331.02 355.35L332.03 355.40L333.05 355.45L334.06 355.50L335.08 355.54L336.10 355.58L337.11 355.62L338.13 355.65L339.14 355.68L340.16 355.71L341.17 355.74L342.19 355.76L343.21 355.78L344.22 355.80L345.24 355.81L346.25 355.82L347.27 355.83L348.28 355.83L349.30 355.83" fill="none" stroke="#0072BD" stroke-width="1.5" stroke-linejoin="round"/>
<line x1="190.60" y1="197.40" x2="152.95" y2="33.84" stroke="#999" stroke-width="1.2"/>
<path d="M151.5 27.5 L156.92 35.49 L152.95 33.84 L150.1 37.05 Z" fill="#000"/>
<text class="sf" x="151.8" y="220.6" font-size="16" textLength="144.8" lengthAdjust="spacingAndGlyphs">Increasing number of</text>
<text class="sf" x="151.8" y="235.9" font-size="16" textLength="87.5" lengthAdjust="spacingAndGlyphs">drying cycles</text>
<text class="sf" x="168.2" y="282.3" font-size="14.5" textLength="31.3" lengthAdjust="spacingAndGlyphs">depth</text>
<text class="sf" x="202.6" y="282.3" font-size="14.5" textLength="7.3" lengthAdjust="spacingAndGlyphs" font-style="italic">z</text>
<text class="sf" x="210.8" y="283.1" font-size="17" textLength="5.5" lengthAdjust="spacingAndGlyphs">/</text>
<text class="sf" x="217.6" y="282.3" font-size="14.5" textLength="8.7" lengthAdjust="spacingAndGlyphs" font-style="italic">L</text>
<text class="sf" x="168.2" y="577.8" font-size="14.5" textLength="31.3" lengthAdjust="spacingAndGlyphs">depth</text>
<text class="sf" x="202.6" y="577.8" font-size="14.5" textLength="7.3" lengthAdjust="spacingAndGlyphs" font-style="italic">z</text>
<text class="sf" x="210.8" y="578.5999999999999" font-size="17" textLength="5.5" lengthAdjust="spacingAndGlyphs">/</text>
<text class="sf" x="217.6" y="577.8" font-size="14.5" textLength="8.7" lengthAdjust="spacingAndGlyphs" font-style="italic">L</text>
<text class="sf" transform="translate(13.6 232.9) rotate(-90)" x="0" y="0" font-size="14" textLength="162.5" lengthAdjust="spacingAndGlyphs">resulting dirt-layer thickness</text>
<text class="sf" transform="translate(13.6 65.9) rotate(-90)" x="0" y="0" font-size="14" textLength="9.0" lengthAdjust="spacingAndGlyphs" font-style="italic">R</text>
<text class="sf" transform="translate(13.6 56.9) rotate(-90)" x="0" y="2.1" font-size="10" textLength="8.2" lengthAdjust="spacingAndGlyphs" font-style="italic">D</text>
<text class="sf" transform="translate(13.6 47.6) rotate(-90)" x="0" y="0.7" font-size="16" textLength="7.4" lengthAdjust="spacingAndGlyphs">/</text>
<text class="sf" transform="translate(13.6 40.0) rotate(-90)" x="0" y="0" font-size="14" textLength="6.4" lengthAdjust="spacingAndGlyphs" font-style="italic">d</text>
<text class="sf" transform="translate(13.6 528.9) rotate(-90)" x="0" y="0" font-size="14" textLength="162.5" lengthAdjust="spacingAndGlyphs">resulting dirt-layer thickness</text>
<text class="sf" transform="translate(13.6 361.9) rotate(-90)" x="0" y="0" font-size="14" textLength="9.0" lengthAdjust="spacingAndGlyphs" font-style="italic">R</text>
<text class="sf" transform="translate(13.6 352.9) rotate(-90)" x="0" y="2.1" font-size="10" textLength="8.2" lengthAdjust="spacingAndGlyphs" font-style="italic">D</text>
<text class="sf" transform="translate(13.6 343.6) rotate(-90)" x="0" y="0.7" font-size="16" textLength="7.4" lengthAdjust="spacingAndGlyphs">/</text>
<text class="sf" transform="translate(13.6 336.0) rotate(-90)" x="0" y="0" font-size="14" textLength="6.4" lengthAdjust="spacingAndGlyphs" font-style="italic">d</text>
<text class="sf" x="0" y="12.2" font-size="18.5" textLength="16.8" lengthAdjust="spacingAndGlyphs">(a)</text>
<text class="sf" x="0" y="307.3" font-size="18.5" textLength="18.5" lengthAdjust="spacingAndGlyphs">(b)</text>
<rect x="253.8" y="490" width="86.8" height="50.9" fill="#fff" stroke="#a8a8a8" stroke-width="1"/>
<line x1="256.6" y1="499.1" x2="284.9" y2="499.1" stroke="#0072BD" stroke-width="1.3"/>
<text class="sf" x="287.6" y="502.5" font-size="12.6" textLength="38" lengthAdjust="spacingAndGlyphs">1 cycle</text>
<line x1="256.6" y1="515.4" x2="284.9" y2="515.4" stroke="#D95319" stroke-width="1.3"/>
<text class="sf" x="287.6" y="518.8" font-size="12.6" textLength="43.2" lengthAdjust="spacingAndGlyphs">5 cycles</text>
<line x1="256.6" y1="531.7" x2="284.9" y2="531.7" stroke="#EDB120" stroke-width="1.3"/>
<text class="sf" x="287.6" y="535.1" font-size="12.6" textLength="49.7" lengthAdjust="spacingAndGlyphs">10 cycles</text>
</svg></body></html>
